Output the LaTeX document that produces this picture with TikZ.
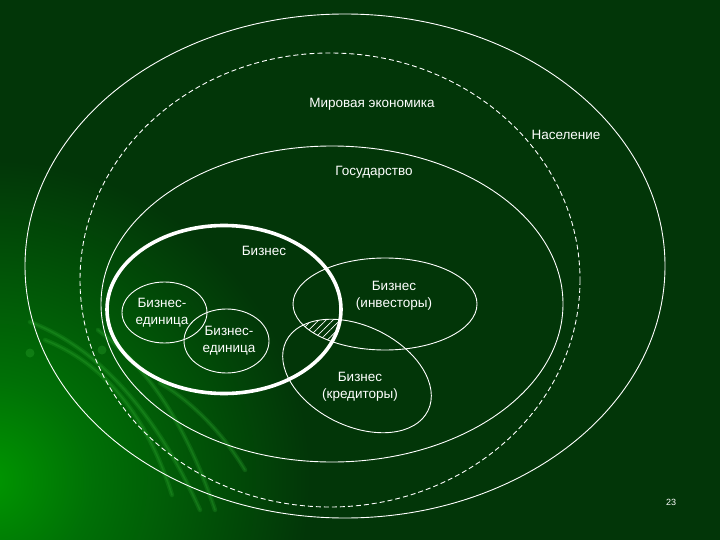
\documentclass[tikz,border=0pt]{standalone}
\usepackage{fontspec}
\setmainfont{Liberation Sans}
\usetikzlibrary{patterns.meta}
\definecolor{bgc}{RGB}{2,54,8}
\definecolor{glowA}{RGB}{0,150,0}
\definecolor{glowB}{RGB}{0,112,6}
\definecolor{bandc}{RGB}{50,175,50}
\pgfdeclareradialshading{glow}{\pgfpoint{0bp}{0bp}}{color(0bp)=(glowA); color(8bp)=(glowB); color(25bp)=(bgc); color(50bp)=(bgc)}
\begin{document}
\begin{tikzpicture}[x=1pt,y=-1pt,
  thinl/.style={draw=white, line width=0.9pt},
  thickl/.style={draw=white, line width=3.6pt},
  band/.style={draw=bandc, opacity=0.22, line width=4.5pt, line cap=round},
  bandcore/.style={draw=bandc, opacity=0.25, line width=1.5pt, line cap=round},
  lbl/.style={text=white, font=\fontsize{13.5}{17}\selectfont, align=center, inner sep=0pt},
  small/.style={text=white, font=\fontsize{9}{11}\selectfont, inner sep=0pt}]
\useasboundingbox (0,0) rectangle (720,540);
\fill[bgc] (0,0) rectangle (720,540);
\begin{scope}
  \clip (0,0) rectangle (720,540);
  \shade[shading=glow] (-10,480) circle (320);
  % decorative bands
  \foreach \st in {band,bandcore}{
    \draw[\st] (30,322) .. controls (90,345) and (150,400) .. (200,510);
    \draw[\st] (45,340) .. controls (100,362) and (145,410) .. (172,495);
    \draw[\st] (98,330) .. controls (140,362) and (182,412) .. (215,510);
    \draw[\st] (160,383) .. controls (192,402) and (222,432) .. (245,470);
  }
  \fill[bandc, opacity=0.3] (30,353) circle (4.5);
  \fill[bandc, opacity=0.3] (102,350) circle (4.5);
\end{scope}
% nested ellipses
\draw[thinl] (345,266) ellipse [x radius=320, y radius=252];
\draw[thinl, dash pattern=on 5pt off 3pt] (330,280) ellipse [x radius=250, y radius=227];
\draw[thinl] (332,304) ellipse [x radius=231, y radius=158];
% business units
\draw[thinl] (164.5,312.5) ellipse [x radius=42.5, y radius=30.5];
\draw[thinl] (226.5,341) ellipse [x radius=42.5, y radius=32];
% investors / creditors
\draw[thinl] (385,304) ellipse [x radius=92, y radius=46];
\draw[thinl, rotate around={-26:(357,376)}] (357,376) ellipse [x radius=79, y radius=50];
% hatched overlap
\begin{scope}
  \clip (385,304) ellipse [x radius=92, y radius=46];
  \clip[rotate around={-26:(357,376)}] (357,376) ellipse [x radius=79, y radius=50];
  \clip (224,309.5) ellipse [x radius=117, y radius=84];
  \fill[pattern={Lines[angle=45,distance=5pt,line width=0.7pt]}, pattern color=white] (280,300) rectangle (360,360);
\end{scope}
% business (thick)
\draw[thickl] (224,309.5) ellipse [x radius=117, y radius=84];
% labels
\node[lbl] (world) at (372,104) {Мировая экономика};
\node[lbl] (pop) at (566,135) {Население};
\node[lbl] (state) at (374,172) {Государство};
\node[lbl] (biz) at (264,251) {Бизнес};
\node[lbl] (unit1) at (162,313) {Бизнес-\\единица};
\node[lbl] (unit2) at (229,341) {Бизнес-\\единица};
\node[lbl] (inv) at (394,296) {Бизнес\\(инвесторы)};
\node[lbl] (cred) at (360,387) {Бизнес\\(кредиторы)};
\node[small] (page) at (671,502) {23};
\end{tikzpicture}
\end{document}
